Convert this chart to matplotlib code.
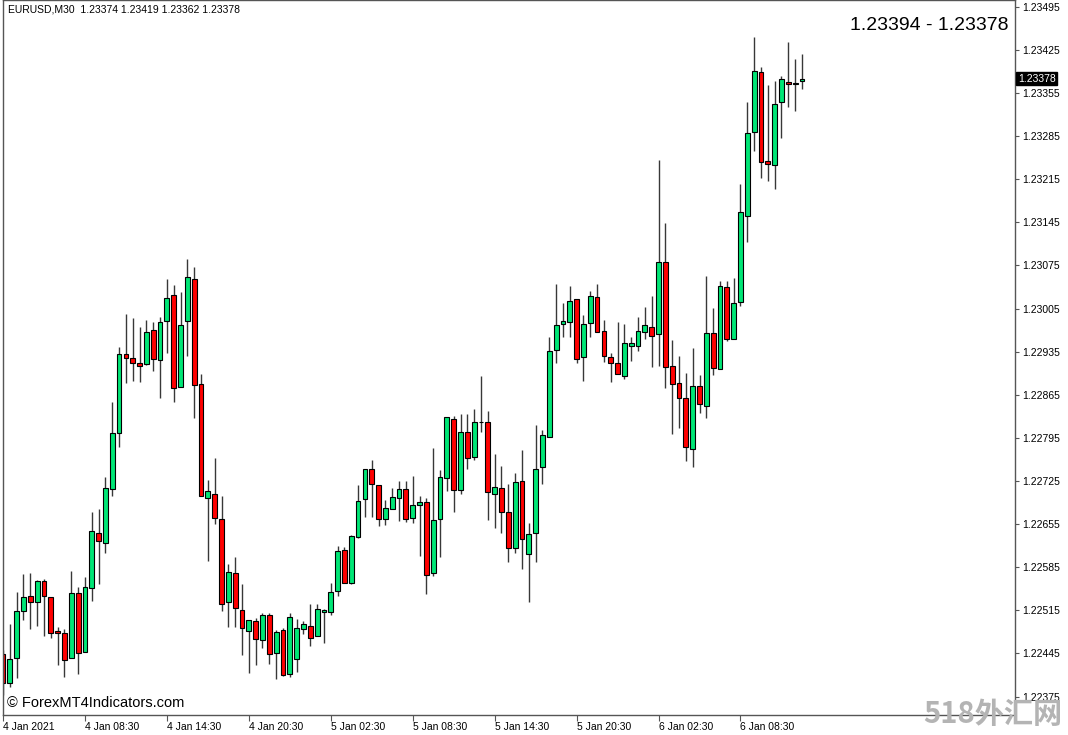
import numpy as np
import matplotlib
matplotlib.use("Agg")
from matplotlib import pyplot as plt
from matplotlib import transforms

# EURUSD M30 candles
opens = [1.22444, 1.22397, 1.22438, 1.22514, 1.22538, 1.22529, 1.22563, 1.22537, 1.22482, 1.22478,
         1.22438, 1.22543, 1.22447, 1.22551, 1.22641, 1.22624, 1.22712, 1.22803, 1.22931, 1.22925,
         1.22917, 1.22915, 1.22970, 1.22922, 1.22985, 1.23027, 1.22878, 1.22985, 1.23053, 1.22883,
         1.22698, 1.22704, 1.22663, 1.22529, 1.22576, 1.22516, 1.22482, 1.22498, 1.22467, 1.22508,
         1.22446, 1.22483, 1.22412, 1.22436, 1.22485, 1.22490, 1.22473, 1.22513, 1.22512, 1.22547,
         1.22613, 1.22560, 1.22634, 1.22696, 1.22745, 1.22719, 1.22663, 1.22680, 1.22698, 1.22712,
         1.22665, 1.22686, 1.22691, 1.22576, 1.22663, 1.22730, 1.22826, 1.22711, 1.22805, 1.22764,
         1.22821, 1.22821, 1.22704, 1.22714, 1.22675, 1.22616, 1.22725, 1.22607, 1.22641, 1.22748,
         1.22797, 1.22938, 1.22980, 1.22983, 1.23021, 1.22927, 1.22982, 1.23024, 1.22969, 1.22927,
         1.22917, 1.22896, 1.22944, 1.22944, 1.22967, 1.22975, 1.22964, 1.23081, 1.22912, 1.22884,
         1.22860, 1.22777, 1.22880, 1.22847, 1.22966, 1.22907, 1.23040, 1.22956, 1.23016, 1.23156,
         1.23292, 1.23389, 1.23245, 1.23238, 1.23341, 1.23373, 1.23370, 1.23374]
highs = [1.22451, 1.22493, 1.22545, 1.22574, 1.22576, 1.22564, 1.22566, 1.22537, 1.22488, 1.22485,
         1.22579, 1.22553, 1.22569, 1.22675, 1.22680, 1.22732, 1.22853, 1.22943, 1.22996, 1.22990,
         1.22975, 1.22987, 1.22983, 1.22992, 1.23053, 1.23044, 1.23032, 1.23086, 1.23073, 1.22899,
         1.22727, 1.22762, 1.22701, 1.22590, 1.22602, 1.22558, 1.22499, 1.22503, 1.22511, 1.22511,
         1.22483, 1.22486, 1.22511, 1.22501, 1.22498, 1.22525, 1.22525, 1.22517, 1.22560, 1.22620,
         1.22618, 1.22637, 1.22719, 1.22745, 1.22759, 1.22719, 1.22694, 1.22714, 1.22725, 1.22725,
         1.22733, 1.22701, 1.22698, 1.22779, 1.22743, 1.22829, 1.22831, 1.22834, 1.22834, 1.22842,
         1.22896, 1.22839, 1.22769, 1.22750, 1.22720, 1.22738, 1.22775, 1.22657, 1.22816, 1.22808,
         1.22959, 1.23045, 1.23014, 1.23042, 1.23021, 1.22995, 1.23034, 1.23045, 1.22987, 1.22933,
         1.22983, 1.22980, 1.22959, 1.22992, 1.23008, 1.23026, 1.23247, 1.23144, 1.22954, 1.22928,
         1.22901, 1.22941, 1.22897, 1.23058, 1.23006, 1.23050, 1.23050, 1.23055, 1.23208, 1.23341,
         1.23446, 1.23398, 1.23368, 1.23375, 1.23383, 1.23438, 1.23411, 1.23419]
lows = [1.22378, 1.22391, 1.22405, 1.22499, 1.22485, 1.22490, 1.22473, 1.22470, 1.22426, 1.22407,
        1.22438, 1.22412, 1.22447, 1.22530, 1.22558, 1.22608, 1.22701, 1.22780, 1.22884, 1.22888,
        1.22886, 1.22914, 1.22904, 1.22860, 1.22933, 1.22853, 1.22878, 1.22928, 1.22827, 1.22701,
        1.22595, 1.22655, 1.22514, 1.22488, 1.22488, 1.22443, 1.22413, 1.22426, 1.22454, 1.22428,
        1.22404, 1.22408, 1.22407, 1.22415, 1.22477, 1.22457, 1.22473, 1.22462, 1.22508, 1.22538,
        1.22560, 1.22558, 1.22633, 1.22667, 1.22667, 1.22652, 1.22654, 1.22680, 1.22660, 1.22659,
        1.22657, 1.22603, 1.22542, 1.22571, 1.22602, 1.22709, 1.22675, 1.22704, 1.22745, 1.22759,
        1.22805, 1.22662, 1.22649, 1.22641, 1.22594, 1.22608, 1.22582, 1.22529, 1.22594, 1.22720,
        1.22797, 1.22917, 1.22959, 1.22959, 1.22917, 1.22888, 1.22959, 1.22967, 1.22918, 1.22886,
        1.22899, 1.22891, 1.22920, 1.22936, 1.22956, 1.22910, 1.22912, 1.22876, 1.22802, 1.22811,
        1.22758, 1.22748, 1.22836, 1.22827, 1.22897, 1.22907, 1.22952, 1.22956, 1.23009, 1.23113,
        1.23261, 1.23217, 1.23212, 1.23199, 1.23282, 1.23333, 1.23325, 1.23362]
closes = [1.22397, 1.22436, 1.22514, 1.22537, 1.22529, 1.22563, 1.22538, 1.22478, 1.22478, 1.22434,
          1.22543, 1.22446, 1.22553, 1.22644, 1.22628, 1.22714, 1.22803, 1.22931, 1.22925, 1.22917,
          1.22912, 1.22967, 1.22923, 1.22983, 1.23022, 1.22876, 1.22979, 1.23057, 1.22881, 1.22701,
          1.22709, 1.22665, 1.22525, 1.22577, 1.22519, 1.22486, 1.22499, 1.22469, 1.22508, 1.22444,
          1.22480, 1.22410, 1.22504, 1.22486, 1.22493, 1.22470, 1.22517, 1.22515, 1.22545, 1.22612,
          1.22560, 1.22636, 1.22693, 1.22745, 1.22720, 1.22663, 1.22681, 1.22699, 1.22712, 1.22663,
          1.22686, 1.22691, 1.22573, 1.22662, 1.22732, 1.22829, 1.22711, 1.22805, 1.22762, 1.22821,
          1.22821, 1.22707, 1.22715, 1.22675, 1.22616, 1.22724, 1.22631, 1.22639, 1.22745, 1.22800,
          1.22936, 1.22979, 1.22985, 1.23017, 1.22923, 1.22980, 1.23026, 1.22967, 1.22928, 1.22917,
          1.22899, 1.22949, 1.22949, 1.22969, 1.22979, 1.22961, 1.23081, 1.22910, 1.22883, 1.22860,
          1.22780, 1.22880, 1.22850, 1.22966, 1.22909, 1.23042, 1.22956, 1.23014, 1.23162, 1.23290,
          1.23391, 1.23243, 1.23240, 1.23337, 1.23378, 1.23370, 1.23372, 1.23378]

time_labels = ['4 Jan 2021', '4 Jan 08:30', '4 Jan 14:30', '4 Jan 20:30', '5 Jan 02:30',
               '5 Jan 08:30', '5 Jan 14:30', '5 Jan 20:30', '6 Jan 02:30', '6 Jan 08:30']
price_ticks = [1.23495, 1.23425, 1.23355, 1.23285, 1.23215, 1.23145, 1.23075, 1.23005,
               1.22935, 1.22865, 1.22795, 1.22725, 1.22655, 1.22585, 1.22515, 1.22445, 1.22375]

BULL = '#00e676'
BEAR = '#ff0000'
WICK = '#383838'

o = np.array(opens)
h = np.array(highs)
l = np.array(lows)
c = np.array(closes)
idx = np.arange(len(o))

fig = plt.figure(figsize=(10.68, 7.35), dpi=100)
ax = fig.add_axes([3/1068, 20/735, 1012/1068, 715/735])

ax.vlines(idx, l, h, color=WICK, lw=1, zorder=1)
up = c >= o
colors = np.where(up, BULL, BEAR)
body = c - o
ax.bar(idx, body, bottom=o, width=0.7, color=colors, edgecolor='black', linewidth=0.8, zorder=2)

ax.set_xlim(0.05, 148.2)
ax.set_ylim(1.22345, 1.23506)

# right price axis
ax.yaxis.tick_right()
ax.set_yticks(price_ticks)
ax.set_yticklabels(['%.5f' % p for p in price_ticks], fontsize=7.5, family='Liberation Sans')
ax.tick_params(axis='y', direction='out', length=3, pad=2, color='#555555')

# time axis
ax.set_xticks(np.arange(0, 12 * len(time_labels), 12))
ax.set_xticklabels(time_labels, fontsize=7.5, family='Liberation Sans', ha='left')
ax.tick_params(axis='x', direction='out', length=4, pad=1, color='#555555')

for s in ax.spines.values():
    s.set_color('#555555')
    s.set_linewidth(1)

# current price box
trans = transforms.blended_transform_factory(ax.transAxes, ax.transData)
ax.text(1.003, closes[-1], '%.5f' % closes[-1], transform=trans, color='white', fontsize=7.5,
        family='Liberation Sans', va='center', ha='left', clip_on=False,
        bbox=dict(boxstyle='square,pad=0.15', fc='black', ec='black'))

fig.text(8/1068, 1 - 10/735, 'EURUSD,M30  %.5f %.5f %.5f %.5f' % (opens[-1], highs[-1], lows[-1], closes[-1]),
         fontsize=7.5, family='Liberation Sans', va='center', ha='left')
fig.text(1008/1068, 1 - 26/735, '1.23394 - 1.23378', fontsize=14, family='Liberation Sans',
         va='center', ha='right')
fig.text(7/1068, 1 - 703/735, '\u00a9 ForexMT4Indicators.com', fontsize=10.5, family='Liberation Sans',
         va='center', ha='left')
fig.text(1062/1068, 1 - 714/735, '518外汇网', fontsize=21, fontweight='bold', color='#b4b4b4',
         family=['Noto Sans CJK SC', 'DejaVu Sans'], va='center', ha='right')

fig.savefig('out.png', dpi=100)
